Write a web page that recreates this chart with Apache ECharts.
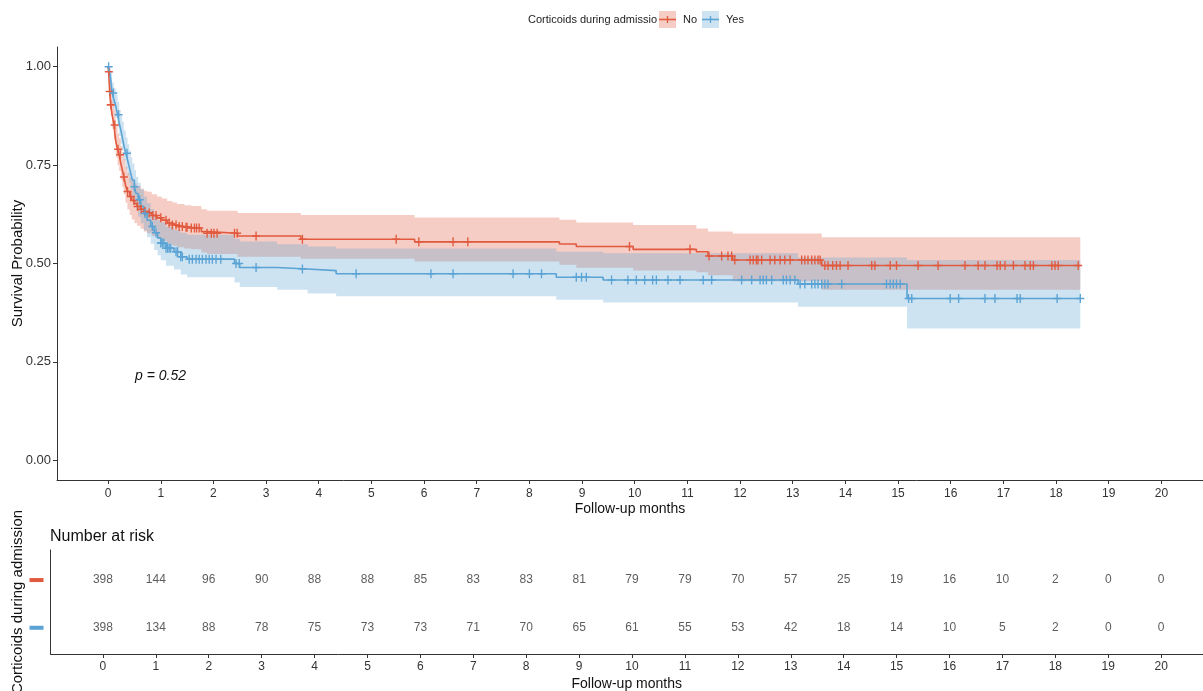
<!DOCTYPE html>
<html>
<head>
<meta charset="utf-8">
<script src="https://cdn.jsdelivr.net/npm/echarts@6/dist/echarts.min.js"></script>
<style>
html,body{margin:0;padding:0;background:#fff;}
#chart{width:1203px;height:691px;}
</style>
</head>
<body>
<div id="chart"></div>
<script>
// ---------- data ----------
const xTicks = [0,1,2,3,4,5,6,7,8,9,10,11,12,13,14,15,16,17,18,19,20];
const yTicks = [0, 0.25, 0.5, 0.75, 1];
const yTickLabels = ['0.00','0.25','0.50','0.75','1.00'];

// Group "No"
const timeNo  = [0, 0.01, 0.03, 0.05, 0.08, 0.11, 0.146, 0.18, 0.21, 0.24, 0.27, 0.3, 0.33, 0.366, 0.41, 0.45, 0.5, 0.55, 0.62, 0.68, 0.74, 0.83, 0.93, 1.02, 1.12, 1.22, 1.31, 1.45, 1.58, 1.77, 1.88, 2.46, 3.66, 5.82, 8.57, 8.89, 9.97, 11.17, 11.39, 11.86, 13.55, 18.46];
const survNo  = [1, 0.987, 0.937, 0.903, 0.875, 0.852, 0.81, 0.79, 0.776, 0.755, 0.738, 0.72, 0.70, 0.683, 0.67, 0.66, 0.652, 0.645, 0.638, 0.632, 0.628, 0.622, 0.616, 0.61, 0.603, 0.598, 0.594, 0.592, 0.59, 0.581, 0.577, 0.570, 0.5615, 0.555, 0.5496, 0.543, 0.536, 0.53, 0.519, 0.509, 0.495, 0.495];
const upperNo = [1, 1, 0.96, 0.935, 0.91, 0.89, 0.85, 0.83, 0.818, 0.798, 0.782, 0.765, 0.745, 0.73, 0.718, 0.71, 0.703, 0.697, 0.69, 0.685, 0.682, 0.676, 0.67, 0.665, 0.659, 0.655, 0.651, 0.648, 0.646, 0.638, 0.634, 0.628, 0.623, 0.617, 0.611, 0.604, 0.598, 0.589, 0.581, 0.576, 0.567, 0.567];
const lowerNo = [1, 0.975, 0.915, 0.875, 0.842, 0.815, 0.77, 0.75, 0.735, 0.712, 0.694, 0.676, 0.655, 0.637, 0.623, 0.612, 0.603, 0.596, 0.588, 0.581, 0.577, 0.57, 0.564, 0.557, 0.55, 0.545, 0.541, 0.538, 0.536, 0.528, 0.524, 0.517, 0.512, 0.505, 0.497, 0.489, 0.482, 0.478, 0.47, 0.455, 0.433, 0.433];
const censorNo = [0.015, 0.03, 0.05, 0.127, 0.19, 0.23, 0.3, 0.37, 0.43, 0.49, 0.56, 0.63, 0.7, 0.78, 0.85, 0.91, 1.0, 1.1, 1.16, 1.22, 1.29, 1.35, 1.41, 1.48, 1.5, 1.58, 1.64, 1.68, 1.73, 1.88, 1.96, 2.01, 2.07, 2.4, 2.45, 2.81, 3.69, 5.47, 5.9, 6.55, 6.83, 9.9, 11.05, 11.41, 11.65, 11.77, 11.84, 11.9, 12.19, 12.25, 12.31, 12.34, 12.41, 12.57, 12.66, 12.76, 12.85, 12.95, 13.17, 13.23, 13.29, 13.36, 13.42, 13.48, 13.52, 13.61, 13.67, 13.76, 13.83, 13.9, 14.05, 14.5, 14.56, 14.85, 14.97, 15.38, 15.76, 16.27, 16.52, 16.65, 16.88, 16.94, 17.03, 17.19, 17.41, 17.51, 17.57, 17.92, 17.98, 18.04, 18.42];

// Group "Yes"
const timeYes  = [0, 0.03, 0.05, 0.076, 0.11, 0.146, 0.18, 0.21, 0.24, 0.266, 0.3, 0.336, 0.37, 0.4, 0.43, 0.46, 0.5, 0.53, 0.57, 0.62, 0.68, 0.74, 0.81, 0.875, 0.94, 1.0, 1.1, 1.25, 1.38, 1.5, 2.4, 2.5, 3.21, 3.79, 4.33, 8.51, 9.4, 13.1, 15.17, 18.46];
const survYes  = [1, 0.985, 0.967, 0.933, 0.917, 0.9, 0.878, 0.857, 0.84, 0.823, 0.8, 0.78, 0.763, 0.746, 0.729, 0.712, 0.695, 0.678, 0.662, 0.645, 0.627, 0.61, 0.594, 0.578, 0.565, 0.552, 0.539, 0.53, 0.517, 0.511, 0.50, 0.49, 0.486, 0.482, 0.474, 0.465, 0.458, 0.448, 0.411, 0.411];
const upperYes = [1, 1, 0.99, 0.96, 0.945, 0.93, 0.91, 0.89, 0.875, 0.86, 0.838, 0.82, 0.803, 0.787, 0.77, 0.754, 0.737, 0.72, 0.705, 0.688, 0.67, 0.654, 0.638, 0.622, 0.61, 0.605, 0.593, 0.585, 0.578, 0.573, 0.563, 0.556, 0.549, 0.543, 0.538, 0.53, 0.526, 0.515, 0.509, 0.509];
const lowerYes = [1, 0.97, 0.945, 0.907, 0.89, 0.87, 0.846, 0.824, 0.805, 0.787, 0.762, 0.741, 0.723, 0.705, 0.687, 0.67, 0.652, 0.636, 0.619, 0.602, 0.584, 0.567, 0.55, 0.534, 0.521, 0.508, 0.494, 0.485, 0.472, 0.465, 0.452, 0.44, 0.433, 0.424, 0.417, 0.408, 0.401, 0.39, 0.335, 0.335];
const censorYes = [0.01, 0.1, 0.2, 0.36, 0.5, 0.6, 0.7, 0.84, 0.91, 1.0, 1.03, 1.06, 1.1, 1.13, 1.16, 1.19, 1.29, 1.32, 1.38, 1.41, 1.54, 1.6, 1.67, 1.73, 1.79, 1.86, 1.92, 1.98, 2.05, 2.14, 2.43, 2.49, 2.81, 3.69, 4.71, 6.13, 6.55, 7.69, 8.0, 8.23, 8.89, 8.99, 9.08, 9.56, 9.87, 10.03, 10.19, 10.34, 10.41, 10.63, 10.86, 11.3, 11.46, 12.03, 12.22, 12.38, 12.44, 12.5, 12.6, 12.82, 12.88, 12.95, 13.04, 13.14, 13.23, 13.36, 13.42, 13.48, 13.55, 13.61, 13.67, 13.93, 14.78, 14.85, 14.91, 14.97, 15.04, 15.2, 15.26, 15.99, 16.15, 16.65, 16.84, 17.26, 17.32, 18.02, 18.46];

// Number at risk
const riskTimes = [0,1,2,3,4,5,6,7,8,9,10,11,12,13,14,15,16,17,18,19,20];
const riskNo  = [398,144,96,90,88,88,85,83,83,81,79,79,70,57,25,19,16,10,2,0,0];
const riskYes = [398,134,88,78,75,73,73,71,70,65,61,55,53,42,18,14,10,5,2,0,0];

// ---------- styling ----------
const RED = '#E15A3F';
const BLUE = '#5AA3D4';
const FONT = '"Liberation Sans", Arial, sans-serif';
const TXT = '#333333';
const CROSS = 'path://M-0.17,-1H0.17V-0.17H1V0.17H0.17V1H-0.17V0.17H-1V-0.17H-0.17Z';

function stepAt(times, surv, t) {
  let v = surv[0];
  for (let i = 0; i < times.length; i++) { if (times[i] <= t) v = surv[i]; }
  return v;
}
function zip(a, b) { return a.map((v, i) => [v, b[i]]); }

// confidence band: one step-shaped polygon built through the axis scales
function bandSeries(times, lo, up, color) {
  return {
    type: 'custom', xAxisIndex: 0, yAxisIndex: 0, silent: true, z: 1, clip: true,
    data: times.map((t, i) => [t, lo[i], up[i]]),
    encode: { x: 0, y: [1, 2] },
    renderItem: function (params, api) {
      if (params.dataIndex !== 0) return null;
      const top = [], bot = [];
      for (let i = 0; i < times.length; i++) {
        const tNext = i < times.length - 1 ? times[i + 1] : times[i];
        top.push(api.coord([times[i], up[i]]), api.coord([tNext, up[i]]));
        bot.push(api.coord([times[i], lo[i]]), api.coord([tNext, lo[i]]));
      }
      const pts = top.concat(bot.reverse());
      return { type: 'polygon', shape: { points: pts },
        style: { fill: color, opacity: 0.3 } };
    }
  };
}
function curveSeries(times, surv, color) {
  return { type: 'line', xAxisIndex: 0, yAxisIndex: 0, step: 'end', symbol: 'none',
    data: zip(times, surv), lineStyle: { color: color, width: 1.6 }, silent: true, z: 3 };
}
function censorSeries(cens, times, surv, color) {
  return { type: 'scatter', xAxisIndex: 0, yAxisIndex: 0, symbol: CROSS, symbolSize: [8, 9],
    data: cens.map(t => [t, stepAt(times, surv, t)]), itemStyle: { color: color, opacity: 1 },
    silent: true, z: 4 };
}
function riskSeries(vals, row) {
  return { type: 'scatter', xAxisIndex: 1, yAxisIndex: 1, symbolSize: 1,
    itemStyle: { color: 'transparent' },
    data: riskTimes.map((t, i) => [t, row, vals[i]]),
    label: { show: true, position: 'inside', formatter: p => String(p.data[2]),
      fontFamily: FONT, fontSize: 12, color: TXT },
    silent: true };
}

const chart = echarts.init(document.getElementById('chart'), null, { renderer: 'canvas' });
const axisLineStyle = { show: true, lineStyle: { color: '#333', width: 1 } };
const tickStyle = { show: true, length: 4, lineStyle: { color: '#333', width: 1 } };

const option = {
  animation: false,
  backgroundColor: '#fff',
  textStyle: { fontFamily: FONT },
  grid: [
    { left: 57, right: 0, top: 47, height: 433, containLabel: false, outerBoundsMode: 'none' },
    { left: 50.5, right: 0, top: 550, height: 104, containLabel: false, outerBoundsMode: 'none' }
  ],
  xAxis: [
    { type: 'value', gridIndex: 0, min: -0.97, max: 20.79,
      axisLine: Object.assign({ onZero: false }, axisLineStyle),
      axisTick: Object.assign({ customValues: xTicks }, tickStyle),
      axisLabel: { customValues: xTicks, margin: 8, fontSize: 12, color: TXT, fontFamily: FONT },
      splitLine: { show: false },
      name: 'Follow-up months', nameLocation: 'middle', nameGap: 22, nameMoveOverlap: false,
      nameTextStyle: { fontSize: 14, color: '#111', fontFamily: FONT } },
    { type: 'value', gridIndex: 1, min: -0.99, max: 20.79,
      axisLine: Object.assign({ onZero: false }, axisLineStyle),
      axisTick: Object.assign({ customValues: xTicks }, tickStyle),
      axisLabel: { customValues: xTicks, margin: 7, fontSize: 12, color: TXT, fontFamily: FONT },
      splitLine: { show: false },
      name: 'Follow-up months', nameLocation: 'middle', nameGap: 23, nameMoveOverlap: false,
      nameTextStyle: { fontSize: 14, color: '#111', fontFamily: FONT } }
  ],
  yAxis: [
    { type: 'value', gridIndex: 0, min: -0.05, max: 1.05,
      axisLine: Object.assign({ onZero: false }, axisLineStyle),
      axisTick: Object.assign({ customValues: yTicks }, tickStyle),
      axisLabel: { customValues: yTicks, margin: 6, fontSize: 13, color: TXT, fontFamily: FONT,
        formatter: v => { const k = yTicks.indexOf(v); return k >= 0 ? yTickLabels[k] : v.toFixed(2); } },
      splitLine: { show: false },
      name: 'Survival Probability', nameLocation: 'middle', nameGap: 32, nameRotate: 90, nameMoveOverlap: false,
      nameTextStyle: { fontSize: 15, color: '#111', fontFamily: FONT } },
    { type: 'value', gridIndex: 1, min: 0.45, max: 2.63,
      axisLine: Object.assign({ onZero: false }, axisLineStyle),
      axisTick: { show: false, customValues: [1, 2] },
      axisLabel: { customValues: [1, 2], margin: 7,
        formatter: v => v === 2 ? '{r|}' : '{b|}',
        rich: { r: { width: 14, height: 4, backgroundColor: RED },
                b: { width: 14, height: 4, backgroundColor: BLUE } } },
      splitLine: { show: false },
      name: 'Corticoids during admission', nameLocation: 'middle', nameGap: 25, nameRotate: 90, nameMoveOverlap: false,
      nameTextStyle: { fontSize: 15, color: '#111', fontFamily: FONT } }
  ],
  graphic: [
    { type: 'text', left: 50, top: 529, style: { text: 'Number at risk', font: '16px ' + FONT, fill: '#111' } },
    { type: 'text', left: 135, top: 369, style: { text: 'p = 0.52', font: 'italic 14px ' + FONT, fill: '#111' } },
    { type: 'text', right: 1203 - 657, top: 14, style: { text: 'Corticoids during admissio', font: '11px ' + FONT, fill: '#222' } },
    { type: 'rect', shape: { x: 659, y: 11, width: 17, height: 17 }, style: { fill: RED, opacity: 0.3 } },
    { type: 'line', shape: { x1: 659, y1: 19.5, x2: 676, y2: 19.5 }, style: { stroke: RED, lineWidth: 1.6 } },
    { type: 'line', shape: { x1: 667.5, y1: 16, x2: 667.5, y2: 23 }, style: { stroke: RED, lineWidth: 1.3 } },
    { type: 'text', left: 683, top: 14, style: { text: 'No', font: '11px ' + FONT, fill: '#222' } },
    { type: 'rect', shape: { x: 702, y: 11, width: 17, height: 17 }, style: { fill: BLUE, opacity: 0.3 } },
    { type: 'line', shape: { x1: 702, y1: 19.5, x2: 719, y2: 19.5 }, style: { stroke: BLUE, lineWidth: 1.6 } },
    { type: 'line', shape: { x1: 710.5, y1: 16, x2: 710.5, y2: 23 }, style: { stroke: BLUE, lineWidth: 1.3 } },
    { type: 'text', left: 726, top: 14, style: { text: 'Yes', font: '11px ' + FONT, fill: '#222' } }
  ],
  series: [
    bandSeries(timeNo, lowerNo, upperNo, RED),
    bandSeries(timeYes, lowerYes, upperYes, BLUE),
    curveSeries(timeNo, survNo, RED),
    curveSeries(timeYes, survYes, BLUE),
    censorSeries(censorNo, timeNo, survNo, RED),
    censorSeries(censorYes, timeYes, survYes, BLUE),
    riskSeries(riskNo, 2),
    riskSeries(riskYes, 1)
  ]
};
chart.setOption(option);
</script>
</body>
</html>
